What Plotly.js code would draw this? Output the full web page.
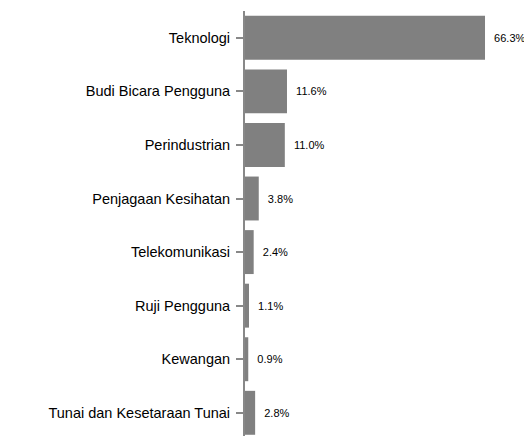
<!DOCTYPE html>
<html>
<head>
<meta charset="utf-8">
<script src="https://cdn.plot.ly/plotly-3.0.1.min.js"></script>
<style>html,body{margin:0;padding:0;background:#fff;overflow:hidden}#chart{width:524px;height:436px}</style>
</head>
<body>
<div id="chart"></div>
<script>
const categories = ["Teknologi", "Budi Bicara Pengguna", "Perindustrian", "Penjagaan Kesihatan", "Telekomunikasi", "Ruji Pengguna", "Kewangan", "Tunai dan Kesetaraan Tunai"];
const values = [66.3, 11.6, 11.0, 3.8, 2.4, 1.1, 0.9, 2.8];

const trace = {
  type: 'bar',
  orientation: 'h',
  x: values,
  y: categories,
  marker: {color: '#808080'},
  text: values.map(v => '\u00a0\u00a0' + v.toFixed(1) + '%'),
  textposition: 'outside',
  textfont: {family: 'Liberation Sans, Arial, sans-serif', size: 11, color: '#000'},
  cliponaxis: false,
  hoverinfo: 'none'
};

const layout = {
  width: 524, height: 436,
  margin: {l: 245, r: 0, t: 11, b: 0, pad: 0},
  paper_bgcolor: '#fff', plot_bgcolor: '#fff',
  showlegend: false,
  bargap: 0.18,
  font: {family: 'Liberation Sans, Arial, sans-serif', color: '#000'},
  xaxis: {range: [0, 77.07], visible: false, fixedrange: true},
  yaxis: {
    type: 'category',
    range: [7.433, -0.5],
    showline: true, linecolor: '#888', linewidth: 2,
    ticks: 'outside', ticklen: 7, tickwidth: 2, tickcolor: '#888',
    ticklabelstandoff: 3,
    showgrid: false, zeroline: false,
    tickfont: {size: 14.5, color: '#000'}
  }
};

Plotly.newPlot('chart', [trace], layout, {staticPlot: true, displayModeBar: false});
</script>
</body>
</html>
